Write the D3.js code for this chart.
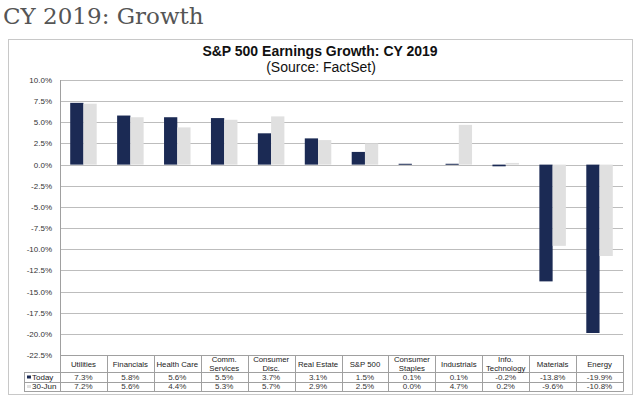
<!DOCTYPE html>
<html>
<head>
<meta charset="utf-8">
<script src="https://cdn.jsdelivr.net/npm/d3@7"></script>
<style>
  body { margin: 0; background: #fff; }
  #container { width: 640px; height: 399px; }
  text { font-family: "Liberation Sans", Arial, sans-serif; }
</style>
</head>
<body>
<div id="container"></div>
<script>
const categories = ["Utilities", "Financials", "Health Care", "Comm.\nServices", "Consumer\nDisc.", "Real Estate", "S&P 500", "Consumer\nStaples", "Industrials", "Info.\nTechnology", "Materials", "Energy"]
const series = ["Today", "30-Jun"]
const today = [7.3, 5.8, 5.6, 5.5, 3.7, 3.1, 1.5, 0.1, 0.1, -0.2, -13.8, -19.9]
const june30 = [7.2, 5.6, 4.4, 5.3, 5.7, 2.9, 2.5, 0.0, 4.7, 0.2, -9.6, -10.8]
const yTicks = [10, 7.5, 5, 2.5, 0, -2.5, -5, -7.5, -10, -12.5, -15, -17.5, -20, -22.5]
const colors = ["#1b2a54", "#e0e0e0"]

const width = 640
const height = 399
const plotLeft = 60, plotRight = 623, plotTop = 80, plotBottom = 355

const svg = d3.create("svg")
    .attr("width", width)
    .attr("height", height)

// page heading
svg.append("text")
    .attr("x", 3)
    .attr("y", 24)
    .style("font-family", "'DejaVu Serif', 'Liberation Serif', serif")
    .style("font-size", "23px")
    .attr("fill", "#555")
    .text("CY 2019: Growth")

// chart frame
svg.append("rect")
    .attr("x", 8.5).attr("y", 39.5)
    .attr("width", 624).attr("height", 355)
    .attr("fill", "#fff")
    .attr("stroke", "#c8c8c8")

svg.append("text")
    .attr("x", 320).attr("y", 56)
    .attr("text-anchor", "middle")
    .style("font-size", "14px").style("font-weight", "bold")
    .attr("fill", "#111")
    .text("S&P 500 Earnings Growth: CY 2019")

svg.append("text")
    .attr("x", 321).attr("y", 71.5)
    .attr("text-anchor", "middle")
    .style("font-size", "14px")
    .attr("fill", "#111")
    .text("(Source: FactSet)")

const y = d3.scaleLinear().domain([-22.5, 10]).range([plotBottom, plotTop])

const x0 = d3.scaleBand().domain(categories).range([plotLeft, plotRight]).padding(0)
const x1 = d3.scaleBand().domain(series).range([0, x0.bandwidth()]).paddingInner(0).paddingOuter(0.77)

// gridlines
svg.append("g")
    .selectAll("line")
    .data(yTicks.filter(d => d > -22.5))
    .join("line")
    .attr("x1", plotLeft).attr("x2", plotRight)
    .attr("y1", d => Math.round(y(d)) + 0.5)
    .attr("y2", d => Math.round(y(d)) + 0.5)
    .attr("stroke", "#bdbdbd")

// y labels
svg.append("g")
    .selectAll("text")
    .data(yTicks)
    .join("text")
    .attr("x", 52)
    .attr("y", d => y(d) + 3)
    .attr("text-anchor", "end")
    .style("font-size", "8px")
    .attr("fill", "#333")
    .text(d => d.toFixed(1) + "%")

// bars
const values = [today, june30]
const groups = svg.append("g")
    .selectAll("g")
    .data(categories)
    .join("g")
    .attr("transform", d => `translate(${x0(d)},0)`)

groups.selectAll("rect")
    .data((d, i) => series.map((s, j) => ({ s, v: values[j][i] })))
    .join("rect")
    .attr("x", d => x1(d.s))
    .attr("width", x1.bandwidth())
    .attr("y", d => y(Math.max(0, d.v)))
    .attr("height", d => Math.max(Math.abs(y(d.v) - y(0)), d.v === 0 ? 0 : 1))
    .attr("fill", d => colors[series.indexOf(d.s)])

// data table
const rowTop = plotBottom, headH = 17, rowH = 9.5
const tableBottom = rowTop + headH + 2 * rowH
const table = svg.append("g").attr("stroke", "#a0a0a0").attr("fill", "none")

table.append("line").attr("x1", plotLeft).attr("x2", plotRight + 0.5).attr("y1", rowTop + 0.5).attr("y2", rowTop + 0.5)
;[rowTop + headH, rowTop + headH + rowH, tableBottom].forEach(yy => {
    table.append("line").attr("x1", 24).attr("x2", plotRight + 0.5)
        .attr("y1", Math.round(yy) + 0.5).attr("y2", Math.round(yy) + 0.5)
})
// vertical separators
table.selectAll("line.col")
    .data(categories.map(c => x0(c)).concat([plotRight]))
    .join("line")
    .attr("class", "col")
    .attr("x1", d => Math.round(d) + 0.5).attr("x2", d => Math.round(d) + 0.5)
    .attr("y1", (d, i) => i === 0 ? plotTop : rowTop)
    .attr("y2", Math.round(tableBottom) + 0.5)
table.append("line").attr("x1", 24.5).attr("x2", 24.5)
    .attr("y1", rowTop + headH).attr("y2", Math.round(tableBottom) + 0.5)

// headers (one text per line)
const head = svg.append("g")
categories.forEach(c => {
    const lines = c.split("\n")
    const cx = x0(c) + x0.bandwidth() / 2
    lines.forEach((l, k) => {
        head.append("text")
            .attr("x", cx)
            .attr("y", lines.length === 1 ? rowTop + 11.5 : rowTop + 7.3 + k * 8.3)
            .attr("text-anchor", "middle")
            .style("font-size", "7.8px")
            .attr("fill", "#222")
            .text(l)
    })
})

// values
values.forEach((vals, j) => {
    svg.append("g")
        .selectAll("text")
        .data(vals)
        .join("text")
        .attr("x", (d, i) => x0(categories[i]) + x0.bandwidth() / 2)
        .attr("y", rowTop + headH + rowH * j + 7.5)
        .attr("text-anchor", "middle")
        .style("font-size", "8px")
        .attr("fill", "#333")
        .text(d => d.toFixed(1) + "%")
})

// legend cells
series.forEach((s, j) => {
    const yy = rowTop + headH + rowH * j
    svg.append("rect")
        .attr("x", 27).attr("y", yy + 3.5)
        .attr("width", 4).attr("height", 3)
        .attr("fill", colors[j])
    svg.append("text")
        .attr("x", 32).attr("y", yy + 7.5)
        .style("font-size", "8px")
        .attr("fill", "#222")
        .text(s)
})

document.querySelector("#container").appendChild(svg.node())
</script>
</body>
</html>
